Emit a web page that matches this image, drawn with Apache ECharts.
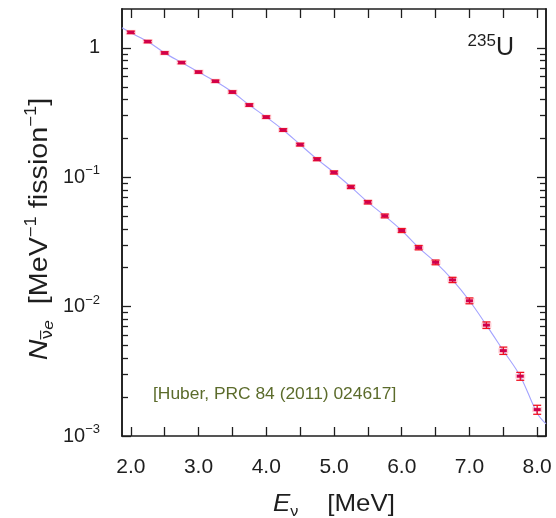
<!DOCTYPE html>
<html><head><meta charset="utf-8">
<script src="https://cdn.jsdelivr.net/npm/echarts@6/dist/echarts.min.js"></script>
<style>html,body{margin:0;padding:0;background:#fff}#c{width:556px;height:518px}</style>
</head><body><div id="c"></div>
<script>
// Data (235U antineutrino spectrum, Huber 2011)
const energy = [2.00,2.25,2.50,2.75,3.00,3.25,3.50,3.75,4.00,4.25,4.50,4.75,5.00,5.25,5.50,5.75,6.00,6.25,6.50,6.75,7.00,7.25,7.50,7.75,8.00];
const flux   = [1.32,1.12,0.915,0.771,0.651,0.553,0.456,0.362,0.292,0.232,0.179,0.138,0.109,0.0843,0.0642,0.0503,0.0388,0.0286,0.0220,0.0161,0.0111,0.00720,0.00457,0.00290,0.00160];
const errPct = [2.2,2.1,2.1,2.1,2.1,2.1,2.2,2.3,2.3,2.4,2.5,2.6,2.8,2.9,3.1,3.4,3.6,3.9,4.2,4.7,5.2,5.8,6.5,7.0,8.0];
// Smooth curve through the spectrum, extended to the frame edges
const curveE = [1.87,2.00,2.25,2.50,2.75,3.00,3.25,3.50,3.75,4.00,4.25,4.50,4.75,5.00,5.25,5.50,5.75,6.00,6.25,6.50,6.75,7.00,7.25,7.50,7.75,8.00,8.13];
const curveN = [1.43,1.31,1.12,0.915,0.771,0.651,0.553,0.456,0.362,0.292,0.232,0.179,0.138,0.109,0.0843,0.0642,0.0503,0.0388,0.0286,0.0220,0.0161,0.0111,0.00720,0.00457,0.00290,0.00150,0.00124];
// Axis ticks
const xTicks  = [2.0,2.5,3.0,3.5,4.0,4.5,5.0,5.5,6.0,6.5,7.0,7.5,8.0];
const xLabels = [2.0,3.0,4.0,5.0,6.0,7.0,8.0];
const yMajor  = [0.001,0.01,0.1,1];
const yMinor  = [0.002,0.003,0.004,0.005,0.006,0.007,0.008,0.009,0.02,0.03,0.04,0.05,0.06,0.07,0.08,0.09,0.2,0.3,0.4,0.5,0.6,0.7,0.8,0.9];
const citation = '[Huber, PRC 84 (2011) 024617]';

const FONT = 'Liberation Sans, Arial, Helvetica, sans-serif';
const INK = '#1e1e1e';
const X_MIN = 1.87, X_MAX = 8.13, Y_MIN = 0.001, Y_MAX = 2;

const chart = echarts.init(document.getElementById('c'), null, {renderer: 'canvas'});

function xAxisDef(pos, labels) {
  return {
    type: 'value', position: pos, min: X_MIN, max: X_MAX,
    axisLine: {show: true, onZero: false, lineStyle: {color: INK, width: 1.6}},
    axisTick: {show: true, inside: true, length: 9, customValues: xTicks, lineStyle: {color: INK, width: 1.3}},
    axisLabel: labels ? {show: true, customValues: xLabels, formatter: v => Number(v).toFixed(1),
      fontSize: 21, fontFamily: FONT, color: INK, margin: 21} : {show: false},
    splitLine: {show: false}
  };
}
function yAxisDef(pos, values, len, labels) {
  return {
    type: 'log', logBase: 10, position: pos, min: Y_MIN, max: Y_MAX, offset: 0,
    axisLine: {show: true, onZero: false, lineStyle: {color: INK, width: 1.6}},
    axisTick: {show: true, inside: true, length: len, customValues: values, lineStyle: {color: INK, width: 1.3}},
    axisLabel: labels ? {
      show: true, customValues: yMajor, margin: 22,
      formatter: v => {
        const e = Math.round(Math.log10(v));
        return e === 0 ? '{b|1}' : '{b|10}{s|\u2212' + (-e) + '}';
      },
      rich: {
        b: {fontSize: 20, fontFamily: FONT, color: INK, lineHeight: 26, verticalAlign: 'middle'},
        s: {fontSize: 13, fontFamily: FONT, color: INK, lineHeight: 26, verticalAlign: 'top'}
      }
    } : {show: false},
    splitLine: {show: false}, minorTick: {show: false}
  };
}

const errData = energy.map((e, i) => [e, flux[i], flux[i] * (1 - errPct[i] / 100), flux[i] * (1 + errPct[i] / 100)]);
const curveData = curveE.map((e, i) => [e, curveN[i]]);

const option = {
  animation: false,
  backgroundColor: '#fff',
  grid: {left: 122, top: 9, right: 10, bottom: 82, containLabel: false},
  xAxis: [xAxisDef('bottom', true), xAxisDef('top', false)],
  yAxis: [
    yAxisDef('left', yMajor, 9, true),
    yAxisDef('left', yMinor, 6, false),
    yAxisDef('right', yMajor, 9, false),
    yAxisDef('right', yMinor, 6, false)
  ],
  series: [
    {
      type: 'line', data: curveData, xAxisIndex: 0, yAxisIndex: 0,
      smooth: 0.35, symbol: 'none', clip: true,
      lineStyle: {color: '#a3a3ff', width: 1.1}, z: 2
    },
    {
      type: 'custom', xAxisIndex: 0, yAxisIndex: 0, data: errData,
      encode: {x: 0, y: 1}, clip: true, z: 3,
      renderItem: (params, api) => {
        const x = api.value(0), y = api.value(1), lo = api.value(2), hi = api.value(3);
        const p = api.coord([x, y]), a = api.coord([x, lo]), b = api.coord([x, hi]);
        const w = 4, red = '#f01020';
        return {
          type: 'group', children: [
            {type: 'rect', shape: {x: p[0] - 5, y: p[1] - 2.5, width: 10, height: 5}, style: {fill: 'rgba(255,120,140,0.35)'}},
            {type: 'line', shape: {x1: p[0], y1: a[1], x2: p[0], y2: b[1]}, style: {stroke: red, lineWidth: 1.3}},
            {type: 'line', shape: {x1: p[0] - w, y1: a[1], x2: p[0] + w, y2: a[1]}, style: {stroke: red, lineWidth: 1.3}},
            {type: 'line', shape: {x1: p[0] - w, y1: b[1], x2: p[0] + w, y2: b[1]}, style: {stroke: red, lineWidth: 1.3}},
            {type: 'rect', shape: {x: p[0] - 3.5, y: p[1] - 1.5, width: 7, height: 3}, style: {fill: '#d0004c'}}
          ]
        };
      }
    }
  ],
  graphic: [
    {
      type: 'text', left: 153, top: 386, z: 10,
      style: {text: citation, fill: '#5b6b2b', font: '17.4px ' + FONT}
    },
    {
      type: 'text', x: 514, y: 47, z: 10,
      style: {
        text: '{s|235}{u|U}', align: 'right', verticalAlign: 'middle',
        rich: {
          s: {fontSize: 17, fontFamily: FONT, fill: INK, lineHeight: 28, verticalAlign: 'top'},
          u: {fontSize: 25, fontFamily: FONT, fill: INK, lineHeight: 28, verticalAlign: 'bottom'}
        }
      }
    },
    {
      type: 'text', x: 334, y: 504, scaleX: 1.08, z: 10,
      style: {
        text: '{i|E}{sub|\u03bd}{n|    [MeV]}', align: 'center', verticalAlign: 'middle',
        rich: {
          i: {fontSize: 24, fontFamily: FONT, fontStyle: 'italic', fill: INK, lineHeight: 30, verticalAlign: 'middle'},
          sub: {fontSize: 15, fontFamily: FONT, fill: INK, lineHeight: 30, verticalAlign: 'bottom'},
          n: {fontSize: 24, fontFamily: FONT, fill: INK, lineHeight: 30, verticalAlign: 'middle'}
        }
      }
    },
    {
      type: 'text', x: 40, y: 229, rotation: Math.PI / 2, scaleX: 1.15, z: 10,
      style: {
        text: '{i|N}{sub|\u03bd\u0305}{subi|e}{n|  [MeV}{sup|\u22121}{n| fission}{sup|\u22121}{n|]}',
        align: 'center', verticalAlign: 'middle',
        rich: {
          i: {fontSize: 25, fontFamily: FONT, fontStyle: 'italic', fill: INK, lineHeight: 32, verticalAlign: 'middle'},
          sub: {fontSize: 15, fontFamily: 'DejaVu Sans', fill: INK, lineHeight: 32, verticalAlign: 'bottom'},
          subi: {fontSize: 15, fontFamily: FONT, fontStyle: 'italic', fill: INK, lineHeight: 32, verticalAlign: 'bottom'},
          n: {fontSize: 25, fontFamily: FONT, fill: INK, lineHeight: 32, verticalAlign: 'middle'},
          sup: {fontSize: 16, fontFamily: FONT, fill: INK, lineHeight: 32, verticalAlign: 'top'}
        }
      }
    }
  ]
};
chart.setOption(option);
</script>
</body></html>
